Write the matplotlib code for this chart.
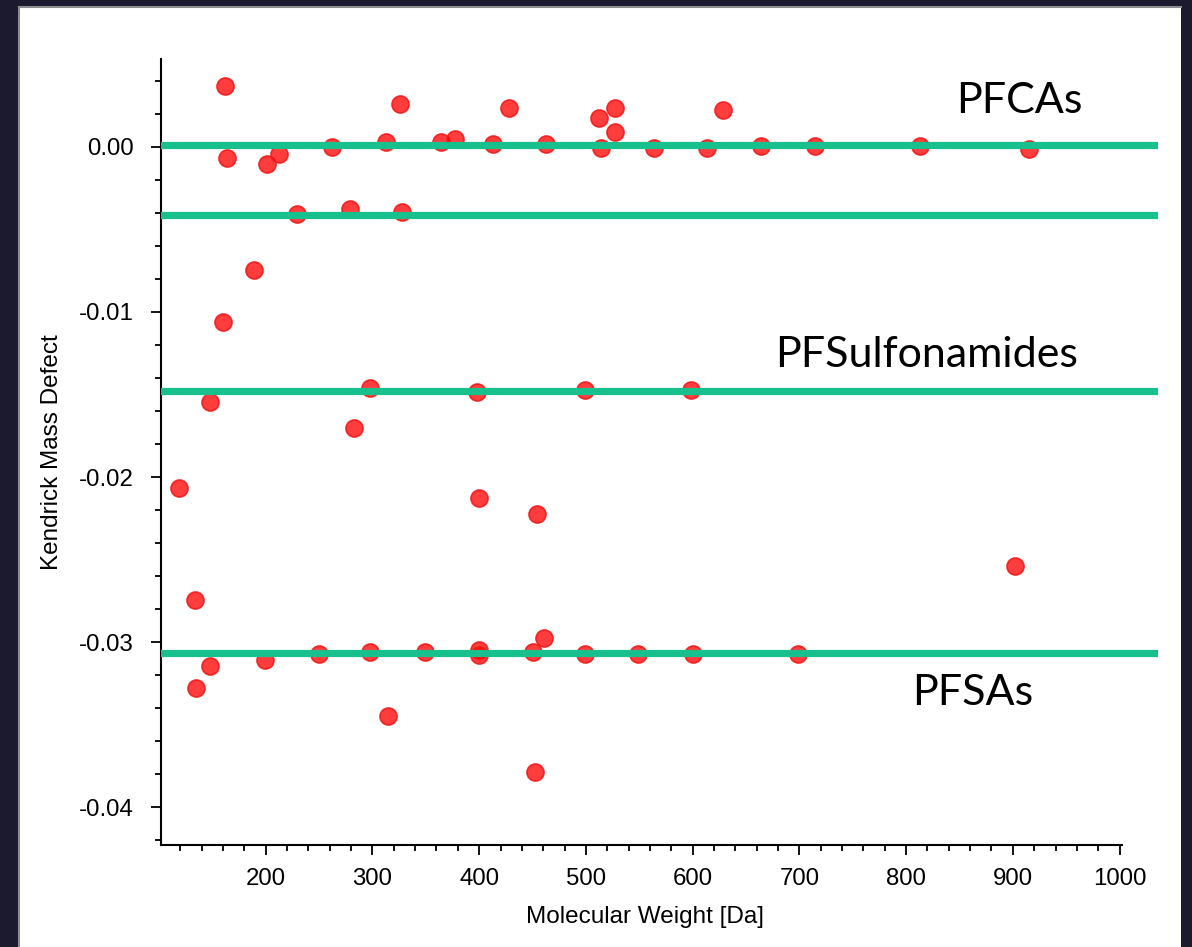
import matplotlib.pyplot as plt
from matplotlib.patches import Rectangle
from matplotlib.lines import Line2D
from matplotlib.ticker import MultipleLocator, FormatStrFormatter

# molecular weight [Da] and Kendrick mass defect of each compound
mw = [162, 164, 201, 212, 262, 313, 326, 364, 377, 413, 428, 463, 512, 514,
      527, 527, 564, 613, 628, 664, 715, 813, 915,
      229, 279, 328, 189, 160,
      148, 298, 398, 499, 598, 283,
      119, 400, 454, 902, 133.5,
      461, 148, 135, 199, 250, 298, 349, 400, 400, 450, 499, 549, 600, 699,
      315, 452]
kmd = [0.0037, -0.00067, -0.00103, -0.00044, 0.00002, 0.00028, 0.0026, 0.00028,
       0.00047, 0.00016, 0.00235, 0.00016, 0.00174, -0.00008, 0.00235, 0.00089,
       -0.00008, -0.00008, 0.00222, 0.00006, 0.00006, 0.00006, -0.0001,
       -0.00406, -0.00378, -0.00396, -0.00745, -0.0106,
       -0.01545, -0.01459, -0.01485, -0.01473, -0.01473, -0.01705,
       -0.02067, -0.02127, -0.02226, -0.0254, -0.02745,
       -0.02974, -0.03145, -0.0328, -0.0311, -0.03073, -0.0306, -0.03062,
       -0.0305, -0.0308, -0.0306, -0.03074, -0.03074, -0.03074, -0.03074,
       -0.03448, -0.03788]

# homologous series reference lines
series_kmd = [0.0001, -0.0041, -0.0148, -0.03065]
class_names = ["PFCAs", "PFSulfonamides", "PFSAs"]
class_pos = [(847, 0.00206), (677, -0.01333), (806, -0.03382)]

fig = plt.figure(figsize=(11.92, 9.47), dpi=100)
fig.patch.set_facecolor("#1c1a2e")
W, H = 1192, 947
fig.patches.append(Rectangle((19 / W, 0), 1162 / W, 1 - 7 / H, transform=fig.transFigure,
                             facecolor="white", edgecolor="none", zorder=-2))
fig.lines.append(Line2D([19 / W, 19 / W], [0, 1 - 7 / H], transform=fig.transFigure,
                        color="#8c8c8c", lw=1.5, zorder=-1))
fig.lines.append(Line2D([19 / W, 1181 / W], [1 - 7 / H, 1 - 7 / H], transform=fig.transFigure,
                        color="#8c8c8c", lw=1.5, zorder=-1))

ax = fig.add_axes([161 / W, 1 - 845 / H, 997 / W, 786 / H])
ax.set_zorder(1)
ax.set_facecolor("none")

ax.scatter(mw, kmd, s=150, facecolor=(1, 0, 0, 0.76), edgecolor=(0.95, 0.1, 0.1, 0.9),
           linewidth=1.2, zorder=2)
for yv in series_kmd:
    ax.axhline(yv, color="#17c08c", lw=5.2, zorder=3)

for name, (tx, ty) in zip(class_names, class_pos):
    ax.text(tx, ty, name, fontsize=31, family="Lato", ha="left", va="baseline", zorder=4)

ax.set_xlim(101.9, 1036)
ax.set_ylim(-0.0423, 0.00533)
ax.spines["top"].set_visible(False)
ax.spines["right"].set_visible(False)
ax.spines["bottom"].set_bounds(101.9, 1002)
for s in ["left", "bottom"]:
    ax.spines[s].set_linewidth(1.5)

ax.set_xticks(range(200, 1001, 100))
ax.set_xticks([v for v in range(120, 1001, 20) if v % 100], minor=True)
ax.yaxis.set_major_locator(MultipleLocator(0.01))
ax.yaxis.set_minor_locator(MultipleLocator(0.002))
ax.yaxis.set_major_formatter(FormatStrFormatter("%.2f"))
ax.tick_params(which="major", direction="out", length=7.5, width=1.3)
ax.tick_params(which="minor", direction="out", length=4, width=1.3)
ax.tick_params(axis="x", which="major", pad=9)
ax.tick_params(axis="y", which="major", pad=12)
for lab in ax.get_xticklabels() + ax.get_yticklabels():
    lab.set_family("Liberation Sans")
    lab.set_fontsize(17.3)

fig.text(645 / W, 1 - 917 / H, "Molecular Weight [Da]", family="Liberation Sans",
         fontsize=17.5, ha="center", va="center")
fig.text(52 / W, 1 - 452 / H, "Kendrick Mass Defect", family="Liberation Sans",
         fontsize=17.5, ha="center", va="center", rotation=90)

fig.savefig("out.png", dpi=100, facecolor=fig.get_facecolor())
